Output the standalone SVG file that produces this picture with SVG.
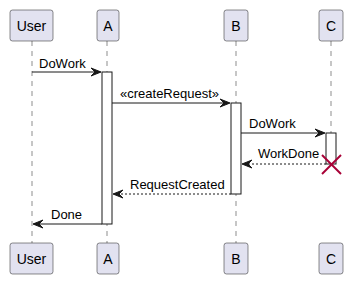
<svg xmlns="http://www.w3.org/2000/svg" width="353" height="285" viewBox="0 0 353 285">
<style>
.p rect{fill:#E2E2F0;stroke:#181818;stroke-width:0.5}
.p text{font-family:"Liberation Sans",Arial,sans-serif;font-size:14px;fill:#000;text-anchor:middle}
.life{stroke:#181818;stroke-width:0.5;stroke-dasharray:5,5;fill:none}
.act{fill:#FFFFFF;stroke:#181818;stroke-width:1}
.msg{stroke:#181818;stroke-width:1;fill:none}
.dash{stroke-dasharray:2,2}
.head{fill:#181818;stroke:#181818;stroke-width:1}
.lbl{font-family:"Liberation Sans",Arial,sans-serif;font-size:13px;fill:#000}
.x{stroke:#A80036;stroke-width:2}
</style>
<rect width="353" height="285" fill="#FFFFFF"/>
<g id="lifelines">
<line class="life" x1="32" y1="41" x2="32" y2="243"/>
<line class="life" x1="107" y1="41" x2="107" y2="243"/>
<line class="life" x1="236" y1="41" x2="236" y2="243"/>
<line class="life" x1="331" y1="41" x2="331" y2="165"/>
</g>
<g id="User" class="p">
<rect x="10" y="10" width="43" height="31" rx="2.5"/>
<text x="31.5" y="31">User</text>
<rect x="10" y="243" width="43" height="31" rx="2.5"/>
<text x="31.5" y="264">User</text>
</g>
<g id="A" class="p">
<rect x="97" y="10" width="22" height="31" rx="2.5"/>
<text x="108" y="31">A</text>
<rect x="97" y="243" width="22" height="31" rx="2.5"/>
<text x="108" y="264">A</text>
</g>
<g id="B" class="p">
<rect x="224" y="10" width="24" height="31" rx="2.5"/>
<text x="236" y="31">B</text>
<rect x="224" y="243" width="24" height="31" rx="2.5"/>
<text x="236" y="264">B</text>
</g>
<g id="C" class="p">
<rect x="319" y="10" width="24" height="31" rx="2.5"/>
<text x="331" y="31">C</text>
<rect x="319" y="243" width="24" height="31" rx="2.5"/>
<text x="331" y="264">C</text>
</g>
<g id="activations">
<rect class="act" x="102" y="72" width="10" height="152"/>
<rect class="act" x="231" y="103" width="10" height="91"/>
<rect class="act" x="326" y="133" width="10" height="31"/>
</g>
<g id="connectors">
<line class="msg" x1="32" y1="72" x2="100" y2="72"/>
<polygon class="head" points="91,68 101,72 91,76 95,72"/>
<text class="lbl" x="39" y="68">DoWork</text>
<line class="msg" x1="112" y1="103" x2="229" y2="103"/>
<polygon class="head" points="220,99 230,103 220,107 224,103"/>
<text class="lbl" x="120" y="98">«createRequest»</text>
<line class="msg" x1="241" y1="133" x2="324" y2="133"/>
<polygon class="head" points="315,129 325,133 315,137 319,133"/>
<text class="lbl" x="249" y="128">DoWork</text>
<line class="msg dash" x1="326" y1="164" x2="243" y2="164"/>
<polygon class="head" points="252,160 242,164 252,168 248,164"/>
<text class="lbl" x="258" y="158">WorkDone</text>
<line class="x" x1="322" y1="155" x2="341" y2="174"/>
<line class="x" x1="341" y1="155" x2="322" y2="174"/>
<line class="msg dash" x1="231" y1="194" x2="114" y2="194"/>
<polygon class="head" points="123,190 113,194 123,198 119,194"/>
<text class="lbl" x="130" y="189">RequestCreated</text>
<line class="msg" x1="102" y1="224" x2="34" y2="224"/>
<polygon class="head" points="43,220 33,224 43,228 39,224"/>
<text class="lbl" x="51" y="219">Done</text>
</g>
</svg>
